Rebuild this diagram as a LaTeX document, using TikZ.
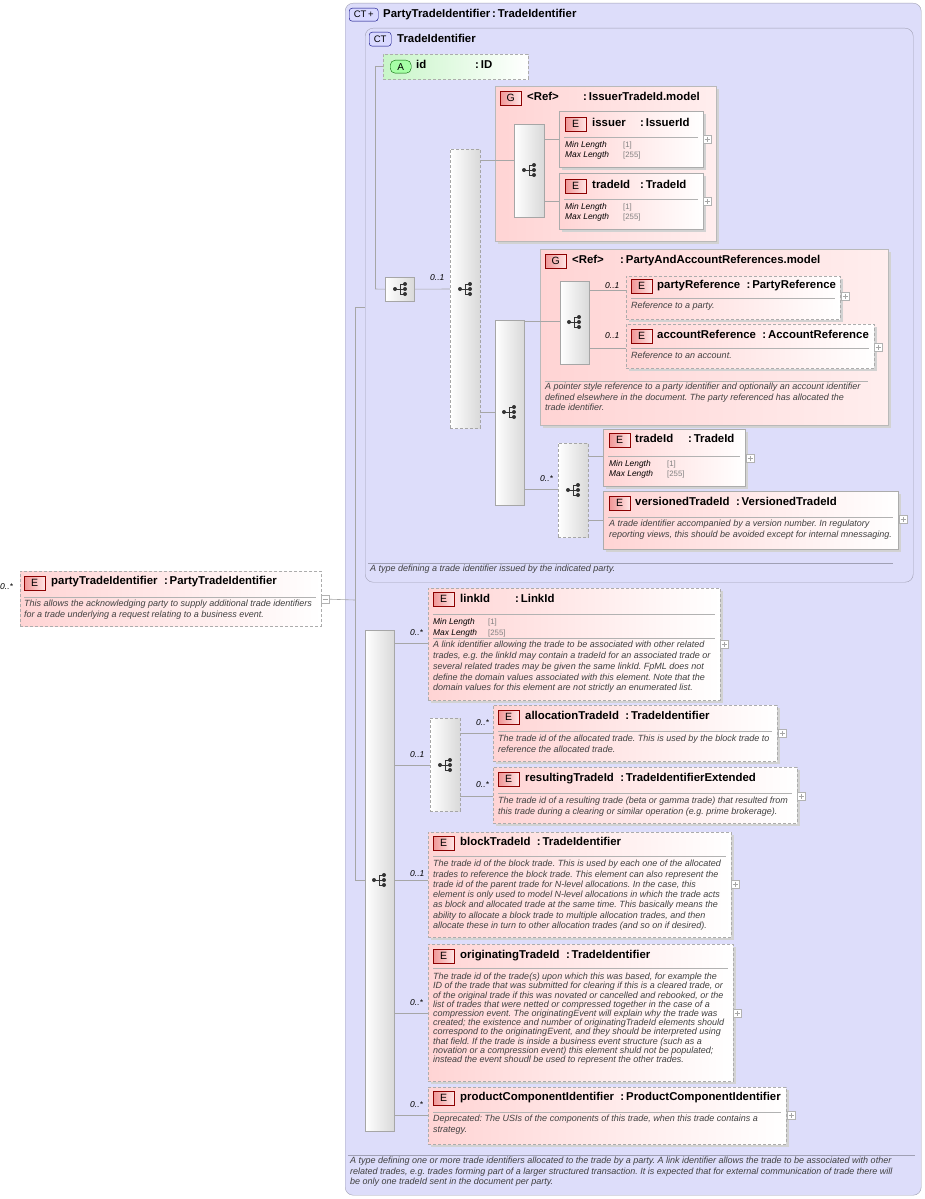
\documentclass[tikz,border=0pt]{standalone}
\usepackage{fontspec}
\setmainfont{Liberation Sans}
\usetikzlibrary{calc}
\frenchspacing
\begin{document}
\definecolor{lav}{RGB}{221,221,250}
\definecolor{lavline}{RGB}{160,160,180}
\definecolor{pnk}{RGB}{255,212,212}
\definecolor{grn}{RGB}{200,245,200}
\definecolor{bred}{RGB}{240,150,150}
\begin{tikzpicture}[x=1pt,y=-1pt,
  ct/.style={draw=lavline,fill=lav,rounded corners=8},
  eb/.style={draw=gray!65,left color=pnk,right color=white,inner sep=0},
  ebd/.style={eb,dash pattern=on 3pt off 2pt},
  gb/.style={draw=gray!55,left color=pnk,right color=pnk!40,inner sep=0},
  ab/.style={draw=gray!65,left color=grn,right color=white,inner sep=0,dash pattern=on 3pt off 2pt},
  sq/.style={draw=gray!70,left color=white,right color=gray!30,inner sep=0},
  sqd/.style={sq,dash pattern=on 3pt off 2pt},
  bdg/.style={draw=red!55!black,left color=bred,right color=pnk!60,inner sep=0,anchor=north west,minimum width=21,minimum height=14,font=\fontsize{10.5}{10}\selectfont},
  ttl/.style={anchor=west,inner sep=0,text height=8.2,text depth=2.4,font=\bfseries\fontsize{11.4}{12}\selectfont},
  dsc/.style={anchor=north west,inner sep=0,align=left,font=\itshape\fontsize{9}{10.3}\selectfont,text=black!75},
  ml/.style={anchor=west,inner sep=0,font=\itshape\fontsize{8.4}{9}\selectfont},
  mv/.style={anchor=west,inner sep=0,font=\fontsize{7.8}{9}\selectfont,text=gray},
  card/.style={anchor=west,inner sep=0,font=\itshape\fontsize{8.5}{9}\selectfont},
  cn/.style={draw=gray!70,line width=0.6pt},
  pl/.style={draw=gray!60,fill=white,minimum size=8,inner sep=0}]
\newcommand\bx[6]{\fill[gray!35] (#2+3,#3+3) rectangle (#4+3,#5+3);
  \node[#6,anchor=north west,minimum width={#4-#2},minimum height={#5-#3}] (#1) at (#2,#3) {};}
\newcommand\sbx[6]{\node[#6,anchor=north west,minimum width={#4-#2},minimum height={#5-#3}] (#1) at (#2,#3) {};}
\newcommand\hub[2]{\begin{scope}[shift={(#1,#2)},line width=0.9pt,black!80]
  \fill (-6,0) circle (2); \draw (-6,0) -- (-1,0) (-1,-5) -- (-1,5) (-1,-5) -- (4,-5) (-1,0) -- (4,0) (-1,5) -- (4,5);
  \fill (4,-5) circle (2) (4,0) circle (2) (4,5) circle (2); \end{scope}}
\newcommand\plus[3]{\node[pl,anchor=north west] (#1) at (#2,#3) {}; \draw[gray!70] ($(#1.center)+(-2.5,0)$) -- ($(#1.center)+(2.5,0)$) ($(#1.center)+(0,-2.5)$) -- ($(#1.center)+(0,2.5)$);}
\newcommand\ttlr[4]{\node[ttl] (#1) at (#2,#3) {#4};}
\useasboundingbox (0,0) rectangle (925,1199);
\fill[white] (0,0) rectangle (925,1199);
% outer CT
\node[ct,anchor=north west,minimum width=576,minimum height=1192] (outer) at (345,3) {};
\node[draw=blue!50!black,fill=blue!15,rounded corners=3,anchor=north west,minimum width=29,minimum height=13,inner sep=0,font=\fontsize{9.5}{9}\selectfont] (ctb1) at (349,8) {CT\,+};
\node[ttl] (t1) at (383,14.5) {PartyTradeIdentifier\,:\,TradeIdentifier};
\draw[lavline] (348,1155) -- (915,1155);
\node[dsc] (d1) at (350,1157) {A type defining one or more trade identifiers allocated to the trade by a party. A link identifier allows the trade to be associated with other\\related trades, e.g. trades forming part of a larger structured transaction. It is expected that for external communication of trade there will\\be only one tradeId sent in the document per party.};
% inner CT
\node[ct,anchor=north west,minimum width=548,minimum height=554] (inner) at (365,28) {};
\node[draw=blue!50!black,fill=blue!15,rounded corners=3,anchor=north west,minimum width=22,minimum height=14,inner sep=0,font=\fontsize{9.5}{9}\selectfont] (ctb2) at (369,32) {CT};
\node[ttl] (t2) at (397,39.5) {TradeIdentifier};
\draw[lavline] (368,563) -- (893,563);
\node[dsc] (d2) at (370,565) {A type defining a trade identifier issued by the indicated party.};
% attribute
\sbx{attr}{383}{54}{528}{79}{ab}
\node[draw=green!40!black,fill=green!35,rounded corners=5,anchor=north west,minimum width=21,minimum height=13,inner sep=0,font=\fontsize{10}{9}\selectfont] (ab) at (390,60) {A};
\node[ttl] at (416,66) {id}; \node[ttl] at (475,66) {:\,ID};
% party element left
\sbx{pti}{20}{571}{321}{626}{ebd}
\node[bdg] at (24,576) {E};
\ttlr{pt}{51}{582}{partyTradeIdentifier}
\node[ttl] at ($(pt.east)+(6,0)$) {:\,PartyTradeIdentifier};
\node[card] at (0,587) {0..*};
\draw[gray!60] (24,597) -- (316,597);
\node[dsc] at (24,600) {This allows the acknowledging party to supply additional trade identifiers\\for a trade underlying a request relating to a business event.};
\node[pl,anchor=north west] (mn) at (321,595) {}; \draw[gray!70] (322.5,599) -- (327.5,599);
% main connectors
\coordinate (j1) at (355,600);
\draw[cn] (mn.east) -- (j1);
\draw[cn] (355,307) -- (355,880);
\draw[cn] (355,307) -- (inner.west|-0,307);
\draw[cn] (375,66) -- (375,289);
\draw[cn] (375,66) -- (attr.west|-0,66);
% seq small
\sbx{s1}{385}{277}{414}{301}{sq}\hub{401}{289}
\draw[cn] (375,289) -- (s1.west);
\sbx{c1}{450}{149}{480}{428}{sqd}\hub{466}{289}
\draw[cn] (s1.east) -- (c1.west|-0,289); \node[card] at (430,278) {0..1};
% G1
\bx{g1}{495}{86}{716}{241}{gb}
\node[bdg] at (500,91) {G}; \node[ttl] at (527,97.5) {<Ref>}; \node[ttl] at (583,97.5) {:\,IssuerTradeId.model};
\sbx{s2}{514}{124}{544}{217}{sq}\hub{530}{170}
\draw[cn] (c1.east|-0,160) -- (s2.west|-0,160);
\bx{iss}{559}{111}{703}{167}{eb}
\node[bdg] at (565,117) {E}; \node[ttl] at (592,123.5) {issuer}; \node[ttl] at (640,123.5) {:\,IssuerId};
\draw[gray!60] (564,137) -- (698,137);
\node[ml] at (565,145) {Min Length}; \node[ml] at (565,155) {Max Length};
\node[mv] at (623,145) {[1]}; \node[mv] at (623,155) {[255]};
\plus{p1}{703}{135}
\bx{tid1}{559}{173}{703}{229}{eb}
\node[bdg] at (565,179) {E}; \node[ttl] at (592,185.5) {tradeId}; \node[ttl] at (640,185.5) {:\,TradeId};
\draw[gray!60] (564,199) -- (698,199);
\node[ml] at (565,207) {Min Length}; \node[ml] at (565,217) {Max Length};
\node[mv] at (623,207) {[1]}; \node[mv] at (623,217) {[255]};
\plus{p2}{703}{197}
\draw[cn] (s2.east|-0,139) -- (iss.west|-0,139);
\draw[cn] (s2.east|-0,201) -- (tid1.west|-0,201);
% seq 3
\sbx{s3}{495}{320}{524}{505}{sq}\hub{510}{412}
\draw[cn] (c1.east|-0,412) -- (s3.west|-0,412);
% G2
\bx{g2}{540}{249}{888}{425}{gb}
\node[bdg] at (545,254) {G}; \node[ttl] at (572,260.5) {<Ref>}; \node[ttl] at (620,260.5) {:\,PartyAndAccountReferences.model};
\draw[cn] (s3.east|-0,321) -- (g2.west|-0,321);
\sbx{s4}{560}{281}{589}{364}{sq}\hub{575}{322}
\draw[cn] (g2.west|-0,321) -- (s4.west|-0,321);
\bx{pr}{626}{276}{840}{319}{ebd}
\node[bdg] at (631,279) {E}; \ttlr{prn}{657}{286}{partyReference}
\node[ttl] at ($(prn.east)+(6,0)$) {:\,PartyReference};
\draw[gray!60] (631,298) -- (835,298);
\node[dsc] at (631,302) {Reference to a party.};
\plus{p3}{841}{292}
\bx{ar}{626}{324}{874}{368}{ebd}
\node[bdg] at (631,329) {E}; \ttlr{arn}{657}{336}{accountReference}
\node[ttl] at ($(arn.east)+(6,0)$) {:\,AccountReference};
\draw[gray!60] (631,348) -- (869,348);
\node[dsc] at (631,352) {Reference to an account.};
\plus{p4}{874}{343}
\draw[cn] (s4.east|-0,290) -- (pr.west|-0,290); \node[card] at (605,286) {0..1};
\draw[cn] (s4.east|-0,348) -- (ar.west|-0,348); \node[card] at (605,336) {0..1};
\draw[gray!60] (545,381) -- (868,381);
\node[dsc] at (545,383) {A pointer style reference to a party identifier and optionally an account identifier\\defined elsewhere in the document. The party referenced has allocated the\\trade identifier.};
% choice 2
\sbx{c2}{558}{443}{588}{537}{sqd}\hub{574}{490}
\draw[cn] (s3.east|-0,489) -- (c2.west|-0,489); \node[card] at (540,479) {0..*};
\bx{tid2}{603}{429}{745}{486}{eb}
\node[bdg] at (609,433) {E}; \node[ttl] at (635,440) {tradeId}; \node[ttl] at (688,440) {:\,TradeId};
\draw[gray!60] (608,456) -- (740,456);
\node[ml] at (609,464) {Min Length}; \node[ml] at (609,474) {Max Length};
\node[mv] at (667,464) {[1]}; \node[mv] at (667,474) {[255]};
\plus{p5}{746}{454}
\bx{vt}{603}{491}{898}{549}{eb}
\node[bdg] at (609,496) {E}; \ttlr{vtn}{635}{503}{versionedTradeId}
\node[ttl] at ($(vtn.east)+(6,0)$) {:\,VersionedTradeId};
\draw[gray!60] (608,517) -- (893,517);
\node[dsc] at (609,520) {A trade identifier accompanied by a version number. In regulatory\\reporting views, this should be avoided except for internal mnessaging.};
\plus{p6}{899}{515}
\draw[cn] (c2.east|-0,456) -- (tid2.west|-0,456);
\draw[cn] (c2.east|-0,520) -- (vt.west|-0,520);
% bottom sequence
\sbx{s5}{365}{630}{394}{1131}{sq}\hub{380}{880}
\draw[cn] (355,880) -- (s5.west|-0,880);
% linkId
\bx{lk}{428}{588}{720}{700}{ebd}
\node[bdg] at (433,592) {E}; \node[ttl] at (460,600) {linkId}; \node[ttl] at (515,600) {:\,LinkId};
\draw[gray!60] (433,614) -- (715,614);
\node[ml] at (433,622) {Min Length}; \node[ml] at (433,633) {Max Length};
\node[mv] at (488,622) {[1]}; \node[mv] at (488,633) {[255]};
\draw[gray!60] (433,638) -- (715,638);
\node[dsc,font=\itshape\fontsize{9}{10.8}\selectfont] at (433,641) {A link identifier allowing the trade to be associated with other related\\trades, e.g. the linkId may contain a tradeId for an associated trade or\\several related trades may be given the same linkId. FpML does not\\define the domain values associated with this element. Note that the\\domain values for this element are not strictly an enumerated list.};
\plus{p7}{720}{640}
\draw[cn] (s5.east|-0,643) -- (lk.west|-0,643); \node[card] at (410,633) {0..*};
% choice 3
\sbx{c3}{430}{718}{460}{811}{sqd}\hub{446}{765}
\draw[cn] (s5.east|-0,765) -- (c3.west|-0,765); \node[card] at (410,755) {0..1};
\bx{al}{493}{705}{777}{761}{ebd}
\node[bdg] at (498,710) {E}; \ttlr{aln}{525}{717}{allocationTradeId}
\node[ttl] at ($(aln.east)+(6,0)$) {:\,TradeIdentifier};
\draw[gray!60] (498,731) -- (772,731);
\node[dsc] at (498,735) {The trade id of the allocated trade. This is used by the block trade to\\reference the allocated trade.};
\plus{p8}{778}{729}
\bx{rs}{493}{767}{797}{823}{ebd}
\node[bdg] at (498,772) {E}; \ttlr{rsn}{525}{779}{resultingTradeId}
\node[ttl] at ($(rsn.east)+(6,0)$) {:\,TradeIdentifierExtended};
\draw[gray!60] (498,793) -- (792,793);
\node[dsc] at (498,797) {The trade id of a resulting trade (beta or gamma trade) that resulted from\\this trade during a clearing or similar operation (e.g. prime brokerage).};
\plus{p9}{797}{792}
\draw[cn] (c3.east|-0,733) -- (al.west|-0,733); \node[card] at (476,723) {0..*};
\draw[cn] (c3.east|-0,796) -- (rs.west|-0,796); \node[card] at (476,785) {0..*};
% block
\bx{bl}{428}{832}{731}{937}{ebd}
\node[bdg] at (433,836) {E}; \ttlr{bln}{460}{843}{blockTradeId}
\node[ttl] at ($(bln.east)+(6,0)$) {:\,TradeIdentifier};
\draw[gray!60] (433,856) -- (726,856);
\node[dsc] at (433,860) {The trade id of the block trade. This is used by each one of the allocated\\trades to reference the block trade. This element can also represent the\\trade id of the parent trade for N-level allocations. In the case, this\\element is only used to model N-level allocations in which the trade acts\\as block and allocated trade at the same time. This basically means the\\ability to allocate a block trade to multiple allocation trades, and then\\allocate these in turn to other allocation trades (and so on if desired).};
\plus{p10}{731}{880}
\draw[cn] (s5.east|-0,880) -- (bl.west|-0,880); \node[card] at (410,874) {0..1};
% originating
\bx{og}{428}{944}{733}{1081}{ebd}
\node[bdg] at (433,949) {E}; \ttlr{ogn}{460}{956}{originatingTradeId}
\node[ttl] at ($(ogn.east)+(6,0)$) {:\,TradeIdentifier};
\draw[gray!60] (433,968) -- (728,968);
\node[dsc,font=\itshape\fontsize{9}{9.2}\selectfont] at (433,973) {The trade id of the trade(s) upon which this was based, for example the\\ID of the trade that was submitted for clearing if this is a cleared trade, or\\of the original trade if this was novated or cancelled and rebooked, or the\\list of trades that were netted or compressed together in the case of a\\compression event. The originatingEvent will explain why the trade was\\created; the existence and number of originatingTradeId elements should\\correspond to the originatingEvent, and they should be interpreted using\\that field. If the trade is inside a business event structure (such as a\\novation or a compression event) this element shuld not be populated;\\instead the event shoudl be used to represent the other trades.};
\plus{p11}{733}{1009}
\draw[cn] (s5.east|-0,1013) -- (og.west|-0,1013); \node[card] at (410,1003) {0..*};
% product component
\bx{pc}{428}{1087}{786}{1144}{ebd}
\node[bdg] at (433,1091) {E}; \ttlr{pcn}{460}{1098}{productComponentIdentifier}
\node[ttl] at ($(pcn.east)+(6,0)$) {:\,ProductComponentIdentifier};
\draw[gray!60] (433,1112) -- (781,1112);
\node[dsc] at (433,1115) {Deprecated: The USIs of the components of this trade, when this trade contains a\\strategy.};
\plus{p12}{787}{1111}
\draw[cn] (s5.east|-0,1115) -- (pc.west|-0,1115); \node[card] at (410,1105) {0..*};
\end{tikzpicture}
\end{document}
